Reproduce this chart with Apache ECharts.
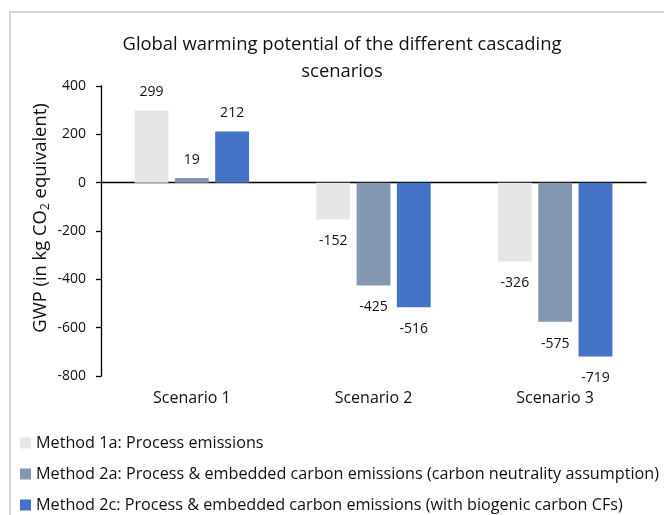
<!DOCTYPE html>
<html>
<head>
<meta charset="utf-8">
<title>Global warming potential of the different cascading scenarios</title>
<script src="https://cdn.jsdelivr.net/npm/echarts@6/dist/echarts.min.js"></script>
<style>
  html, body { margin: 0; padding: 0; background: #fff; }
  #chart { width: 664px; height: 515px; }
</style>
</head>
<body>
<div id="chart"></div>
<script>
// Scenario categories and GWP results (kg CO2 equivalent)
var scenarios = ['Scenario 1', 'Scenario 2', 'Scenario 3'];
var method1a = [299, -152, -326];
var method2a = [19, -425, -575];
var method2c = [212, -516, -719];
var seriesNames = [
  'Method 1a: Process emissions',
  'Method 2a: Process & embedded carbon emissions (carbon neutrality assumption)',
  'Method 2c: Process & embedded carbon emissions (with biogenic carbon CFs)'
];
var seriesColors = ['#e7e6e6', '#8497b0', '#4472c4'];
var yTicks = { min: -800, max: 400, interval: 200 };

var FONT = '"Open Sans", "Noto Sans", sans-serif';
var TEXT = '#111';

// Value labels sit above positive bars and below negative ones
function withLabels(values) {
  return values.map(function (v) {
    return {
      value: v,
      label: {
        position: v >= 0 ? 'top' : 'bottom',
        distance: v >= 0 ? 11 : 15
      }
    };
  });
}

var valueSets = [method1a, method2a, method2c];
var series = valueSets.map(function (vals, i) {
  return {
    name: seriesNames[i],
    type: 'bar',
    xAxisIndex: 0,
    data: withLabels(vals),
    barGap: '19%',
    barCategoryGap: '37%',
    itemStyle: { color: seriesColors[i] },
    label: {
      show: true,
      fontFamily: FONT,
      fontSize: 14,
      color: TEXT
    }
  };
});

// One single-row legend per series, stacked down the bottom-left corner
var legendTops = [434, 465, 496];
var legends = seriesNames.map(function (name, i) {
  return {
    orient: 'vertical',
    left: 20,
    top: legendTops[i],
    padding: 0,
    icon: 'rect',
    itemWidth: 11,
    itemHeight: 11,
    textStyle: {
      fontFamily: FONT,
      fontSize: 16.2,
      color: TEXT,
      lineHeight: 18
    },
    data: [name]
  };
});

var chart = echarts.init(document.getElementById('chart'), null, { renderer: 'canvas' });
chart.setOption({
  backgroundColor: '#fff',
  animation: false,
  title: {
    text: 'Global warming potential of the different cascading\nscenarios',
    left: 337,
    top: 26,
    textAlign: 'center',
    textStyle: {
      fontFamily: FONT,
      fontSize: 18.4,
      fontWeight: 'normal',
      color: TEXT,
      lineHeight: 27
    }
  },
  graphic: [{
    type: 'rect',
    shape: { x: 10, y: 12, width: 700, height: 600 },
    style: { fill: 'none', stroke: '#d4d4d4', lineWidth: 2 },
    silent: true,
    z: -1
  }, {
    // Value-axis title, rotated to read bottom to top
    type: 'text',
    x: 41,
    y: 218,
    rotation: Math.PI / 2,
    silent: true,
    style: {
      text: '{t|GWP (in kg CO}{s|2}{t| equivalent)}',
      align: 'center',
      verticalAlign: 'middle',
      rich: {
        t: { fontFamily: FONT, fontSize: 18.4, fill: TEXT },
        s: { fontFamily: FONT, fontSize: 12, fill: TEXT, verticalAlign: 'bottom', padding: [9, 0, 0, 0] }
      }
    }
  }],
  legend: legends,
  grid: { left: 101, right: 18, top: 86, bottom: 139 },
  xAxis: [{
    type: 'category',
    data: scenarios,
    axisLine: { show: false, onZero: false },
    axisTick: { show: false },
    axisLabel: {
      fontFamily: FONT,
      fontSize: 16,
      color: TEXT,
      margin: 14
    }
  }, {
    type: 'category',
    data: scenarios,
    position: 'bottom',
    axisLine: { show: true, onZero: true, onZeroAxisIndex: 0, lineStyle: { color: '#000', width: 1.3 } },
    axisTick: { show: false },
    axisLabel: { show: false }
  }],
  yAxis: {
    type: 'value',
    min: yTicks.min,
    max: yTicks.max,
    interval: yTicks.interval,
    axisLine: { show: true, lineStyle: { color: '#000', width: 1.3 } },
    axisTick: { show: true, length: 5, lineStyle: { color: '#000', width: 1.3 } },
    splitLine: { show: false },
    axisLabel: {
      fontFamily: FONT,
      fontSize: 14,
      color: TEXT,
      margin: 15
    }
  },
  series: series
});
</script>
</body>
</html>
